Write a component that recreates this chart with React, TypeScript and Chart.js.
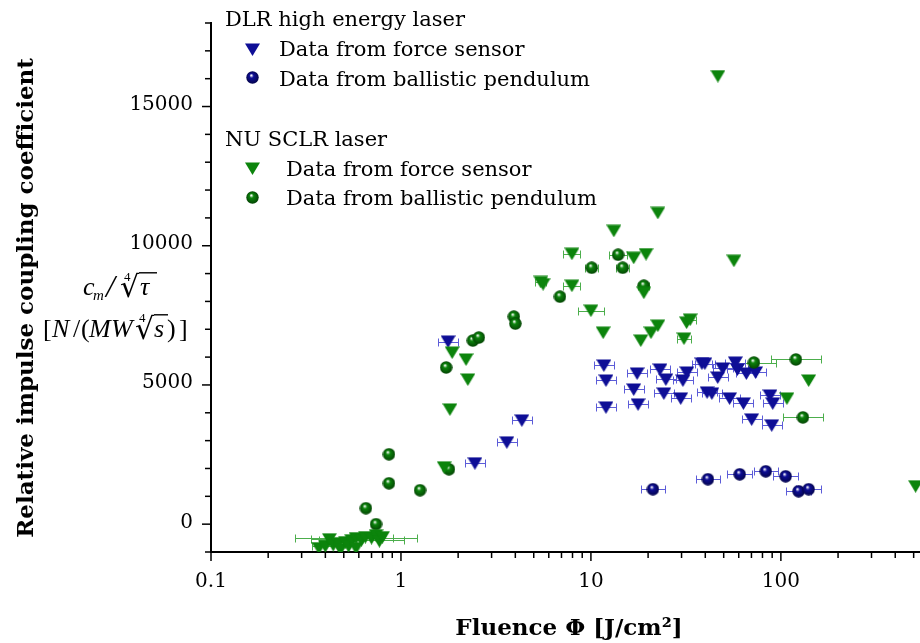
import React, { useEffect, useRef } from "react";
import { Chart, registerables } from "chart.js";
Chart.register(...registerables);

// ---- axes ----
const X_MIN = 0.1;
const X_MAX = 540;
const Y_MIN = -1000;
const Y_MAX = 18000;
const xMajorTicks = [0.1, 1, 10, 100];
const xTickLabels = ["0.1", "1", "10", "100"];
const yMajorTicks = [0, 5000, 10000, 15000];
const yTickLabels = ["0", "5000", "10000", "15000"];
const yMinorStep = 1000;

// ---- NU SCLR laser: force sensor (green triangles) ----
const nuForceX = [0.37, 0.40, 0.42, 0.44, 0.47, 0.48, 0.51, 0.53, 0.55, 0.58, 0.58, 0.62, 0.65, 0.70, 0.74, 0.77, 0.80,
  1.69, 1.81, 1.86, 2.2, 2.25, 5.45, 5.6, 7.94, 7.94, 10.0, 11.6, 13.2, 16.8, 19.5, 18.3, 19.0, 20.7, 22.5, 22.5, 30.9, 31.9, 33.3, 46.6, 56.6, 107.6, 140, 512];
const nuForceY = [-860, -790, -540, -750, -680, -900, -645, -790, -575, -500, -860, -575, -465, -500, -395, -610, -465,
  2043, 4122, 6164, 5914, 5197, 8700, 8620, 9713, 8566, 7670, 6881, 10537, 9570, 9700, 6595, 8315, 6881, 7132, 11182, 6666, 7240, 7347, 16092, 9462, 4516, 5161, 1362];
const nuForceErr = [0, 1.18, 1.25, 0, 0, 0, 0, 0, 0, 2.1, 0, 1.67, 0, 1.3, 0, 0, 0,
  0, 0, 0, 0, 0, 1.07, 0, 1.11, 1.11, 1.17, 0, 0, 0, 0, 0, 0, 0, 0, 0, 1.09, 0, 1.07, 0, 0, 0, 0, 0];

// ---- NU SCLR laser: ballistic pendulum (green spheres) ----
const nuPendX = [0.654, 0.739, 0.865, 0.865, 1.26, 1.79, 1.73, 2.39, 2.57, 3.93, 4.0, 6.87, 10.1, 13.9, 14.7, 19.0, 72.1, 120, 130.6];
const nuPendY = [573, 0, 2509, 1469, 1219, 1971, 5627, 6595, 6702, 7455, 7204, 8172, 9211, 9677, 9211, 8566, 5806, 5914, 3835];
const nuPendErr = [0, 0, 0, 0, 0, 0, 0, 0, 0, 0, 0, 0, 1.08, 1.12, 1.08, 1.07, 1.3, 1.35, 1.27];

// ---- DLR high energy laser: force sensor (blue triangles) ----
const dlrForceX = [1.77, 2.45, 3.61, 4.33, 11.7, 12.0, 12.0, 17.5, 16.8, 17.7, 23.1, 24.8, 24.2, 29.7, 30.5, 32.0, 38.4, 39.8, 40.9, 43.3, 46.5, 49.4, 53.7, 57.6, 59.1, 63.5, 65.8, 70.2, 73.6, 87.6, 90.6, 89.5];
const dlrForceY = [6559, 2186, 2939, 3727, 5699, 5161, 4193, 5412, 4838, 4301, 5555, 5197, 4695, 4516, 5161, 5448, 5770, 5770, 4731, 4695, 5268, 5591, 4516, 5806, 5555, 4337, 5412, 3763, 5448, 4623, 4337, 3548];
const dlrForceErr = [1.13, 1.13, 1.13, 1.13, 1.13, 1.13, 1.13, 1.13, 1.13, 1.13, 1.13, 1.13, 1.13, 1.13, 1.13, 1.13, 1.13, 1.13, 1.13, 1.13, 1.13, 1.13, 1.13, 1.13, 1.13, 1.13, 1.13, 1.13, 1.13, 1.13, 1.13, 1.13];

// ---- DLR high energy laser: ballistic pendulum (blue spheres) ----
const dlrPendX = [21.2, 41.3, 60.7, 83.3, 106, 124, 140];
const dlrPendY = [1254, 1613, 1792, 1900, 1720, 1183, 1254];
const dlrPendErr = [1.16, 1.16, 1.16, 1.16, 1.16, 1.16, 1.16];

// ---- texts ----
const legendGroup1 = "DLR high energy laser";
const legendGroup2 = "NU SCLR laser";
const legendForce = "Data from force sensor";
const legendPend = "Data from ballistic pendulum";
const xTitle = "Fluence \u03A6 [J/cm\u00B2]";
const yTitle = "Relative impulse coupling coefficient";

const BLUE = "#0e0e96";
const BLUE_DARK = "#03034a";
const BLUE_ERR = "#5c5cd8";
const GREEN = "#0c840c";
const GREEN_DARK = "#034203";
const GREEN_ERR = "#4cae4c";
const SERIF = "'DejaVu Serif', serif";
const MATH = "'Liberation Serif', serif";

function sphere(base: string, dark: string, d: number) {
  const c = document.createElement("canvas");
  c.width = d;
  c.height = d;
  const g = c.getContext("2d")!;
  const r = d / 2;
  const grad = g.createRadialGradient(r * 0.8, r * 0.65, 0.3, r, r, r);
  grad.addColorStop(0, "#ffffff");
  grad.addColorStop(0.3, base);
  grad.addColorStop(1, dark);
  g.fillStyle = grad;
  g.beginPath();
  g.arc(r, r, r - 0.3, 0, Math.PI * 2);
  g.fill();
  return c;
}

// downward triangle sprite whose bounding box is centred on the point
function triSprite(color: string, w: number, h: number) {
  const c = document.createElement("canvas");
  c.width = w;
  c.height = h;
  const g = c.getContext("2d")!;
  g.fillStyle = color;
  g.beginPath();
  g.moveTo(0, 0.5);
  g.lineTo(w, 0.5);
  g.lineTo(w / 2, h);
  g.closePath();
  g.fill();
  return c;
}

function pts(xs: number[], ys: number[]) {
  return xs.map((x, i) => ({ x, y: ys[i] }));
}

function makeOverlay(sprites: any) {
  return {
    id: "overlay",
    beforeDatasetsDraw(chart: any) {
      const ctx: CanvasRenderingContext2D = chart.ctx;
      const xs = chart.scales.x;
      const ys = chart.scales.y;
      chart.data.datasets.forEach((ds: any) => {
        if (!ds.xErr) return;
        ctx.save();
        ctx.strokeStyle = ds.errColor;
        ctx.lineWidth = 1;
        ds.data.forEach((p: any, i: number) => {
          const f = ds.xErr[i];
          if (!f) return;
          const x0 = Math.round(xs.getPixelForValue(p.x / f)) + 0.5;
          const x1 = Math.round(xs.getPixelForValue(p.x * f)) + 0.5;
          const y = Math.round(ys.getPixelForValue(p.y)) + 0.5;
          ctx.beginPath();
          ctx.moveTo(x0, y);
          ctx.lineTo(x1, y);
          ctx.moveTo(x0, y - 4);
          ctx.lineTo(x0, y + 4);
          ctx.moveTo(x1, y - 4);
          ctx.lineTo(x1, y + 4);
          ctx.stroke();
        });
        ctx.restore();
      });
    },
    afterDraw(chart: any) {
      const ctx: CanvasRenderingContext2D = chart.ctx;
      const xs = chart.scales.x;
      const ys = chart.scales.y;
      const area = chart.chartArea;
      ctx.save();
      // tick marks
      ctx.strokeStyle = "#000";
      ctx.lineWidth = 1.5;
      for (let v = Y_MIN; v <= Y_MAX; v += yMinorStep) {
        const y = ys.getPixelForValue(v);
        const len = v % 5000 === 0 ? 9 : 6;
        ctx.beginPath();
        ctx.moveTo(area.left - len, y);
        ctx.lineTo(area.left, y);
        ctx.stroke();
      }
      for (let d = -1; d <= 3; d++) {
        for (let m = 1; m <= 9; m++) {
          const v = m * Math.pow(10, d);
          if (v < X_MIN * 0.999 || v > X_MAX) continue;
          const x = xs.getPixelForValue(v);
          const len = m === 1 ? 9 : 6;
          ctx.beginPath();
          ctx.moveTo(x, area.bottom);
          ctx.lineTo(x, area.bottom + len);
          ctx.stroke();
        }
      }
      // y tick labels (digits sit slightly above the tick, as in the reference)
      ctx.fillStyle = "#000";
      ctx.font = "20px " + SERIF;
      ctx.textAlign = "right";
      ctx.textBaseline = "alphabetic";
      yMajorTicks.forEach((v, i) => {
        ctx.fillText(yTickLabels[i], area.left - 18, ys.getPixelForValue(v) + 3.5);
      });

      // axis titles
      ctx.font = "bold 23px " + SERIF;
      ctx.textAlign = "center";
      ctx.fillText(xTitle, 569, 635);
      ctx.save();
      ctx.translate(33, 298);
      ctx.rotate(-Math.PI / 2);
      ctx.fillText(yTitle, 0, 0);
      ctx.restore();

      // math label
      ctx.textAlign = "left";
      const put = (t: string, font: string, x: number, y: number) => {
        ctx.font = font;
        ctx.fillText(t, x, y);
      };
      const radical = (x: number, y: number, endX: number) => {
        ctx.font = "30px 'DejaVu Sans', sans-serif";
        ctx.fillText("\u221A", x, y);
        const m = ctx.measureText("\u221A");
        const top = y - m.actualBoundingBoxAscent + 0.8;
        ctx.save();
        ctx.strokeStyle = "#000";
        ctx.lineWidth = 1.4;
        ctx.beginPath();
        ctx.moveTo(x + m.actualBoundingBoxRight - 1, top);
        ctx.lineTo(endX, top);
        ctx.stroke();
        ctx.restore();
      };
      put("c", "italic 26px " + MATH, 83, 295);
      put("m", "italic 15px " + MATH, 93, 300);
      put("/", "italic 32px " + MATH, 106, 297);
      radical(120, 297, 157);
      put("4", "13px " + MATH, 124, 281);
      put("\u03C4", "italic 26px " + MATH, 140, 295);

      put("[", "26px " + MATH, 43, 337);
      put("N", "italic 26px " + MATH, 52, 337);
      put("/", "26px " + MATH, 73, 337);
      put("(", "26px " + MATH, 81, 337);
      put("M", "italic 26px " + MATH, 89, 337);
      put("W", "italic 26px " + MATH, 111, 337);
      radical(135, 339, 168);
      put("4", "13px " + MATH, 139, 322);
      put("s", "italic 26px " + MATH, 154, 337);
      put(")", "26px " + MATH, 167, 337);
      put("]", "26px " + MATH, 179, 337);

      // legend
      const blit = (img: HTMLCanvasElement, x: number, y: number) =>
        ctx.drawImage(img, Math.round(x - img.width / 2), Math.round(y - img.height / 2));
      ctx.font = "21px " + SERIF;
      ctx.fillText(legendGroup1, 225, 26);
      blit(sprites.blueTri, 252, 49);
      ctx.fillText(legendForce, 279, 56);
      blit(sprites.blueSphere, 252, 77);
      ctx.fillText(legendPend, 279, 86);
      ctx.fillText(legendGroup2, 225, 146);
      blit(sprites.greenTri, 252, 168);
      ctx.fillText(legendForce, 286, 176);
      blit(sprites.greenSphere, 252, 197);
      ctx.fillText(legendPend, 286, 205);
      ctx.restore();
    },
  };
}

export default function App() {
  const ref = useRef<HTMLCanvasElement>(null);
  useEffect(() => {
    document.body.style.margin = "0";
    const sprites = {
      blueSphere: sphere(BLUE, BLUE_DARK, 13),
      greenSphere: sphere(GREEN, GREEN_DARK, 13),
      blueTri: triSprite(BLUE, 15, 13),
      greenTri: triSprite(GREEN, 15, 13),
    };
    const tickFont = { family: SERIF, size: 20 };
    const chart = new Chart(ref.current!, {
      type: "scatter",
      data: {
        datasets: [
          { label: "NU force", data: pts(nuForceX, nuForceY), xErr: nuForceErr, errColor: GREEN_ERR, pointStyle: sprites.greenTri, radius: 7 } as any,
          { label: "NU pendulum", data: pts(nuPendX, nuPendY), xErr: nuPendErr, errColor: GREEN_ERR, pointStyle: sprites.greenSphere, radius: 6.5 } as any,
          { label: "DLR force", data: pts(dlrForceX, dlrForceY), xErr: dlrForceErr, errColor: BLUE_ERR, pointStyle: sprites.blueTri, radius: 7 } as any,
          { label: "DLR pendulum", data: pts(dlrPendX, dlrPendY), xErr: dlrPendErr, errColor: BLUE_ERR, pointStyle: sprites.blueSphere, radius: 6.5 } as any,
        ],
      },
      options: {
        responsive: false,
        animation: false,
        events: [],
        layout: { autoPadding: false, padding: { top: 23, left: 0, right: 0, bottom: 0 } },
        plugins: { legend: { display: false }, tooltip: { enabled: false }, title: { display: false } },
        scales: {
          x: {
            type: "logarithmic",
            min: X_MIN,
            max: X_MAX,
            position: "bottom",
            grid: { display: false, drawOnChartArea: false, drawTicks: false },
            border: { display: true, color: "#000", width: 2 },
            afterBuildTicks: (axis: any) => {
              axis.ticks = xMajorTicks.map((v) => ({ value: v }));
            },
            afterFit: (axis: any) => {
              axis.height = 91;
            },
            ticks: {
              autoSkip: false,
              maxRotation: 0,
              padding: 18,
              color: "#000",
              font: tickFont,
              callback: (v: any) => {
                const i = xMajorTicks.findIndex((t) => Math.abs(t - v) < t * 1e-6);
                return i >= 0 ? xTickLabels[i] : "";
              },
            },
          },
          y: {
            type: "linear",
            min: Y_MIN,
            max: Y_MAX,
            position: "left",
            grid: { display: false, drawOnChartArea: false, drawTicks: false },
            border: { display: true, color: "#000", width: 2 },
            afterBuildTicks: (axis: any) => {
              axis.ticks = yMajorTicks.map((v) => ({ value: v }));
            },
            afterFit: (axis: any) => {
              axis.width = 211;
            },
            ticks: { display: false },
          },
        },
      } as any,
      plugins: [makeOverlay(sprites)],
    });
    return () => chart.destroy();
  }, []);
  return (
    <div style={{ position: "absolute", left: 0, top: 0, width: 920, height: 643 }}>
      <canvas ref={ref} width={920} height={643} style={{ display: "block" }} />
    </div>
  );
}
